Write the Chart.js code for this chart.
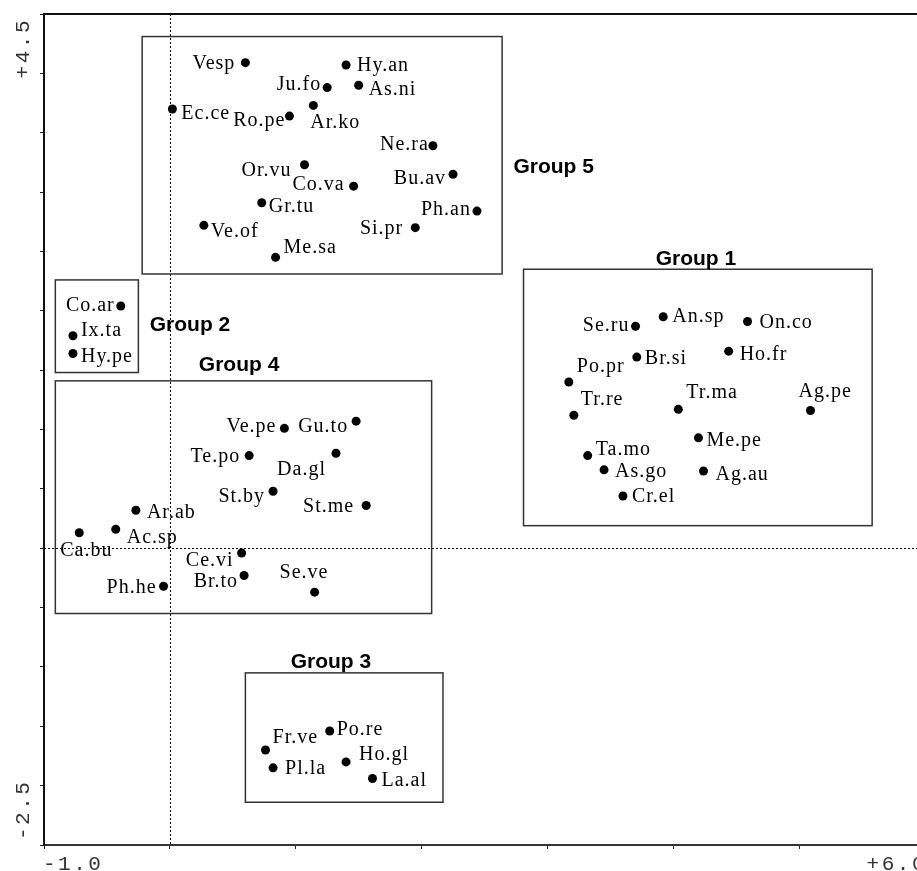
<!DOCTYPE html>
<html>
<head>
<meta charset="utf-8">
<script src="https://cdn.jsdelivr.net/npm/chart.js@4"></script>
<style>
  html, body { margin: 0; padding: 0; background: #fff; overflow: hidden; }
  #wrap { width: 930px; height: 871px; }
</style>
</head>
<body>
<div id="wrap"><canvas id="chart" width="930" height="871"></canvas></div>
<script>
// species scores on the first two ordination axes
const species = ['Vesp','Hy.an','Ju.fo','As.ni','Ec.ce','Ro.pe','Ar.ko','Ne.ra','Or.vu','Co.va','Bu.av','Gr.tu','Ph.an','Si.pr','Ve.of','Me.sa',
  'Co.ar','Ix.ta','Hy.pe',
  'Ve.pe','Gu.to','Te.po','Da.gl','St.by','St.me','Ar.ab','Ac.sp','Ca.bu','Ce.vi','Br.to','Se.ve','Ph.he',
  'Se.ru','An.sp','On.co','Br.si','Ho.fr','Po.pr','Tr.re','Tr.ma','Ag.pe','Me.pe','Ta.mo','As.go','Ag.au','Cr.el',
  'Fr.ve','Po.re','Pl.la','Ho.gl','La.al'];
const axis1 = [0.60,1.40,1.25,1.50,0.02,0.95,1.14,2.09,1.07,1.46,2.25,0.73,2.44,1.95,0.27,0.84,
  -0.39,-0.77,-0.77,
  0.91,1.48,0.63,1.32,0.82,1.56,-0.27,-0.43,-0.72,0.57,0.59,1.15,-0.05,
  3.70,3.92,4.59,3.71,4.44,3.17,3.21,4.04,5.09,4.20,3.32,3.45,4.24,3.60,
  0.76,1.27,0.82,1.40,1.61];
const axis2 = [4.09,4.07,3.88,3.90,3.70,3.64,3.73,3.39,3.23,3.05,3.15,2.91,2.84,2.70,2.72,2.45,
  2.04,1.79,1.64,
  1.01,1.07,0.78,0.80,0.48,0.36,0.32,0.16,0.13,-0.04,-0.23,-0.37,-0.32,
  1.87,1.95,1.91,1.61,1.66,1.40,1.12,1.17,1.16,0.93,0.78,0.66,0.65,0.44,
  -1.70,-1.54,-1.85,-1.80,-1.94];

// groups: enclosing boxes and titles, in axis units
const groupNames = ['Group 1','Group 2','Group 3','Group 4','Group 5'];
const boxLeft   = [2.81, -0.91, 0.60, -0.91, -0.22];
const boxRight  = [5.58, -0.25, 2.17,  2.08,  2.64];
const boxTop    = [2.35,  2.26, -1.05, 1.41,  4.31];
const boxBottom = [0.19,  1.48, -2.14, -0.55, 2.31];
const titleX    = [3.86, -0.16, 0.96, 0.23, 2.73];
const titleY    = [2.45,  1.89, -0.95, 1.56, 3.22];

const xEndLabels = ['-1.0', '+6.0'];
const yEndLabels = ['+4.5', '-2.5'];

// label placement next to each point: [dx, dy, side]  (L = text left of point)
const labelPlace = [
  [-11,0,'L'],[11,-1,'R'],[-7,-4,'L'],[10,3,'R'],[9,4,'R'],[-5,3,'L'],[-3,16,'R'],[-5,-2,'L'],
  [-14,5,'L'],[-10,-3,'L'],[-8,3,'L'],[7,3,'R'],[-7,-3,'L'],[-13,0,'L'],[7,5,'R'],[8,-11,'R'],
  [-7,-2,'L'],[8,-6,'R'],[8,2,'R'],
  [-9,-3,'L'],[-9,4,'L'],[-10,0,'L'],[-11,15,'L'],[-9,4,'L'],[-13,0,'L'],[11,1,'R'],[11,7,'R'],
  [-19,17,'R'],[-9,7,'L'],[-7,5,'L'],[-35,-21,'R'],[-8,0,'L'],
  [-7,-2,'L'],[9,-1,'R'],[12,0,'R'],[8,0,'R'],[11,2,'R'],[8,-17,'R'],[7,-17,'R'],[8,-18,'R'],
  [-12,-20,'R'],[8,2,'R'],[8,-7,'R'],[11,1,'R'],[12,2,'R'],[9,0,'R'],
  [7,-14,'R'],[7,-3,'R'],[12,0,'R'],[13,-8,'R'],[9,1,'R']
];

const points = species.map((s, i) => ({x: axis1[i], y: axis2[i]}));

const overlay = {
  id: 'overlay',
  beforeDatasetsDraw(chart) {
    const {ctx, chartArea: a, scales: {x, y}} = chart;
    ctx.save();
    // top frame line
    ctx.strokeStyle = '#111';
    ctx.lineWidth = 2;
    ctx.beginPath();
    ctx.moveTo(a.left - 1, a.top);
    ctx.lineTo(a.right, a.top);
    ctx.stroke();
    // dotted zero lines
    ctx.lineWidth = 1;
    ctx.strokeStyle = '#000';
    ctx.setLineDash([2, 2]);
    ctx.beginPath();
    const x0 = Math.round(x.getPixelForValue(0)) + 0.5;
    const y0 = Math.round(y.getPixelForValue(0)) + 0.5;
    ctx.moveTo(x0, a.top);
    ctx.lineTo(x0, a.bottom);
    ctx.moveTo(a.left, y0);
    ctx.lineTo(a.right, y0);
    ctx.stroke();
    ctx.setLineDash([]);
    // group boxes
    ctx.strokeStyle = '#333';
    ctx.lineWidth = 1.5;
    groupNames.forEach((g, i) => {
      const l = x.getPixelForValue(boxLeft[i]);
      const r = x.getPixelForValue(boxRight[i]);
      const t = y.getPixelForValue(boxTop[i]);
      const b = y.getPixelForValue(boxBottom[i]);
      ctx.strokeRect(l, t, r - l, b - t);
    });
    ctx.restore();
  },
  afterDatasetsDraw(chart) {
    const {ctx, chartArea: a, scales: {x, y}} = chart;
    ctx.save();
    // species labels
    ctx.fillStyle = '#000';
    ctx.font = '20px "Liberation Serif"';
    ctx.letterSpacing = '1px';
    ctx.textBaseline = 'alphabetic';
    species.forEach((s, i) => {
      const [dx, dy, side] = labelPlace[i];
      ctx.textAlign = side === 'L' ? 'right' : 'left';
      ctx.fillText(s, x.getPixelForValue(axis1[i]) + dx + (side === 'L' ? 1 : 0), y.getPixelForValue(axis2[i]) + dy + 6.5);
    });
    // group titles
    ctx.letterSpacing = '0px';
    ctx.font = 'bold 21px "Liberation Sans"';
    ctx.textAlign = 'left';
    groupNames.forEach((g, i) => {
      ctx.fillText(g, x.getPixelForValue(titleX[i]), y.getPixelForValue(titleY[i]) + 7.5);
    });
    // axis end labels
    ctx.font = '21px "Liberation Mono"';
    ctx.fillStyle = '#333';
    ctx.letterSpacing = '2.5px';
    ctx.textAlign = 'left';
    ctx.fillText(xEndLabels[0], a.left - 1, 870);
    ctx.textAlign = 'right';
    ctx.fillText(xEndLabels[1], a.right + 2, 870);
    ctx.save();
    ctx.translate(28.5, a.top + 4);
    ctx.rotate(-Math.PI / 2);
    ctx.textAlign = 'right';
    ctx.fillText(yEndLabels[0], 0, 0);
    ctx.restore();
    ctx.save();
    ctx.translate(28.5, a.bottom - 5);
    ctx.rotate(-Math.PI / 2);
    ctx.textAlign = 'left';
    ctx.fillText(yEndLabels[1], 0, 0);
    ctx.restore();
    ctx.restore();
  }
};

new Chart(document.getElementById('chart'), {
  type: 'scatter',
  data: {
    datasets: [{
      data: points,
      pointRadius: 4.5,
      pointBackgroundColor: '#000',
      pointBorderWidth: 0,
      pointHoverRadius: 4.5
    }]
  },
  options: {
    responsive: false,
    animation: false,
    layout: { padding: { top: 14, right: 5, left: 0, bottom: 0 } },
    plugins: { legend: { display: false }, tooltip: { enabled: false } },
    scales: {
      x: {
        type: 'linear', min: -1, max: 6,
        ticks: { display: false, stepSize: 1 },
        grid: { drawOnChartArea: false, drawTicks: true, tickLength: 4, color: '#222' },
        border: { color: '#333', width: 2 },
        afterFit(s) { s.height = 26; }
      },
      y: {
        type: 'linear', min: -2.5, max: 4.5,
        ticks: { display: false, stepSize: 0.5 },
        grid: { drawOnChartArea: false, drawTicks: true, tickLength: 4, color: '#222' },
        border: { color: '#111', width: 2 },
        afterFit(s) { s.width = 44; }
      }
    }
  },
  plugins: [overlay]
});
</script>
</body>
</html>
